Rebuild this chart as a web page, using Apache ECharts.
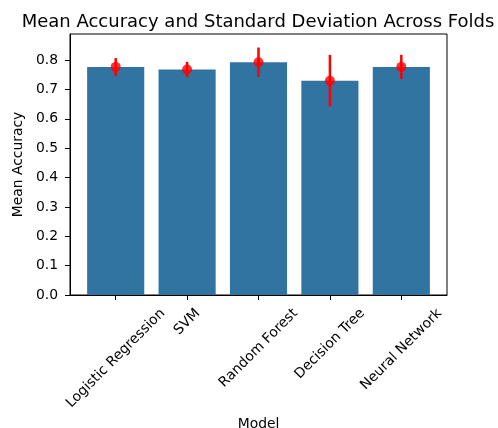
<!DOCTYPE html>
<html><head><meta charset="utf-8">
<script src="https://cdn.jsdelivr.net/npm/echarts@6/dist/echarts.min.js"></script>
<style>html,body{margin:0;padding:0;background:#fff}#c{width:498px;height:428px}</style>
</head><body><div id="c"></div>
<script>
const models = ['Logistic Regression', 'SVM', 'Random Forest', 'Decision Tree', 'Neural Network'];
const meanAccuracy = [0.777, 0.768, 0.793, 0.730, 0.777];
const stdAccuracy = [0.030, 0.026, 0.050, 0.088, 0.041];
const yTicks = [0.0, 0.1, 0.2, 0.3, 0.4, 0.5, 0.6, 0.7, 0.8];
const xTicks = models.map((m, i) => i);

const FONT = '"DejaVu Sans", sans-serif';
const FS = 13.9;
const ctx = document.createElement('canvas').getContext('2d');
ctx.font = FS + 'px "DejaVu Sans"';
const PAD = 10.5, MARGIN = 4, LH = FS * 1.164;
const rich = {};
models.forEach((m, i) => {
  const w = ctx.measureText(m).width;
  const d = PAD + 0.7071 * (w + LH) / 2;
  const p = (d - MARGIN) * Math.SQRT2;
  rich['t' + i] = { fontSize: FS, fontFamily: FONT, color: '#000', padding: [p, p, 0, 0] };
});

const chart = echarts.init(document.getElementById('c'), null, { renderer: 'canvas' });
chart.setOption({
  animation: false,
  backgroundColor: '#fff',
  title: {
    text: 'Mean Accuracy and Standard Deviation Across Folds',
    left: 253, textAlign: 'center', top: 8,
    textStyle: { fontFamily: FONT, fontSize: 18, fontWeight: 'normal', color: '#000' }
  },
  grid: { left: 70, right: 51, top: 34, bottom: 133, outerBoundsMode: 'none', containLabel: false, show: true, borderColor: '#000', borderWidth: 1, backgroundColor: 'transparent' },
  xAxis: {
    type: 'value', min: -0.64, max: 4.64,
    name: 'Model', nameLocation: 'middle', nameGap: 119,
    nameTextStyle: { fontFamily: FONT, fontSize: FS, color: '#000' },
    axisLine: { show: true, onZero: false, lineStyle: { color: '#000', width: 1 } },
    axisTick: { show: true, length: 5, lineStyle: { color: '#000' }, customValues: xTicks },
    axisLabel: {
      rotate: 45, align: 'center', verticalAlign: 'middle', margin: MARGIN,
      hideOverlap: false, customValues: xTicks,
      rich: rich,
      formatter: v => { const i = Math.round(v); return '{t' + i + '|' + models[i] + '}'; }
    },
    splitLine: { show: false }
  },
  yAxis: {
    type: 'value', min: 0, max: 0.889, interval: 0.1,
    name: 'Mean Accuracy', nameLocation: 'middle', nameGap: 41, nameRotate: 90,
    nameTextStyle: { fontFamily: FONT, fontSize: FS, color: '#000' },
    axisLine: { show: true, onZero: false, lineStyle: { color: '#000', width: 1 } },
    axisTick: { show: true, length: 5, lineStyle: { color: '#000' }, customValues: yTicks },
    axisLabel: { fontFamily: FONT, fontSize: FS, color: '#000', margin: 12, customValues: yTicks, formatter: v => v.toFixed(1) },
    splitLine: { show: false }
  },
  series: [
    {
      type: 'bar', data: meanAccuracy.map((v, i) => [i, v]), barCategoryGap: '20%',
      itemStyle: { color: '#3274a1' }, z: 2
    },
    {
      type: 'custom', z: 3,
      data: models.map((m, i) => [i, meanAccuracy[i] - stdAccuracy[i], meanAccuracy[i] + stdAccuracy[i]]),
      encode: { x: 0, y: [1, 2] },
      renderItem: (params, api) => {
        const x = api.value(0);
        const p1 = api.coord([x, api.value(1)]);
        const p2 = api.coord([x, api.value(2)]);
        return { type: 'line', shape: { x1: p1[0], y1: p1[1], x2: p2[0], y2: p2[1] }, style: { stroke: '#ff0000', lineWidth: 2.5 } };
      }
    },
    {
      type: 'scatter', data: meanAccuracy.map((v, i) => [i, v]), symbol: 'circle', symbolSize: 10,
      itemStyle: { color: '#ff0000' }, z: 4
    }
  ]
});
</script></body></html>
